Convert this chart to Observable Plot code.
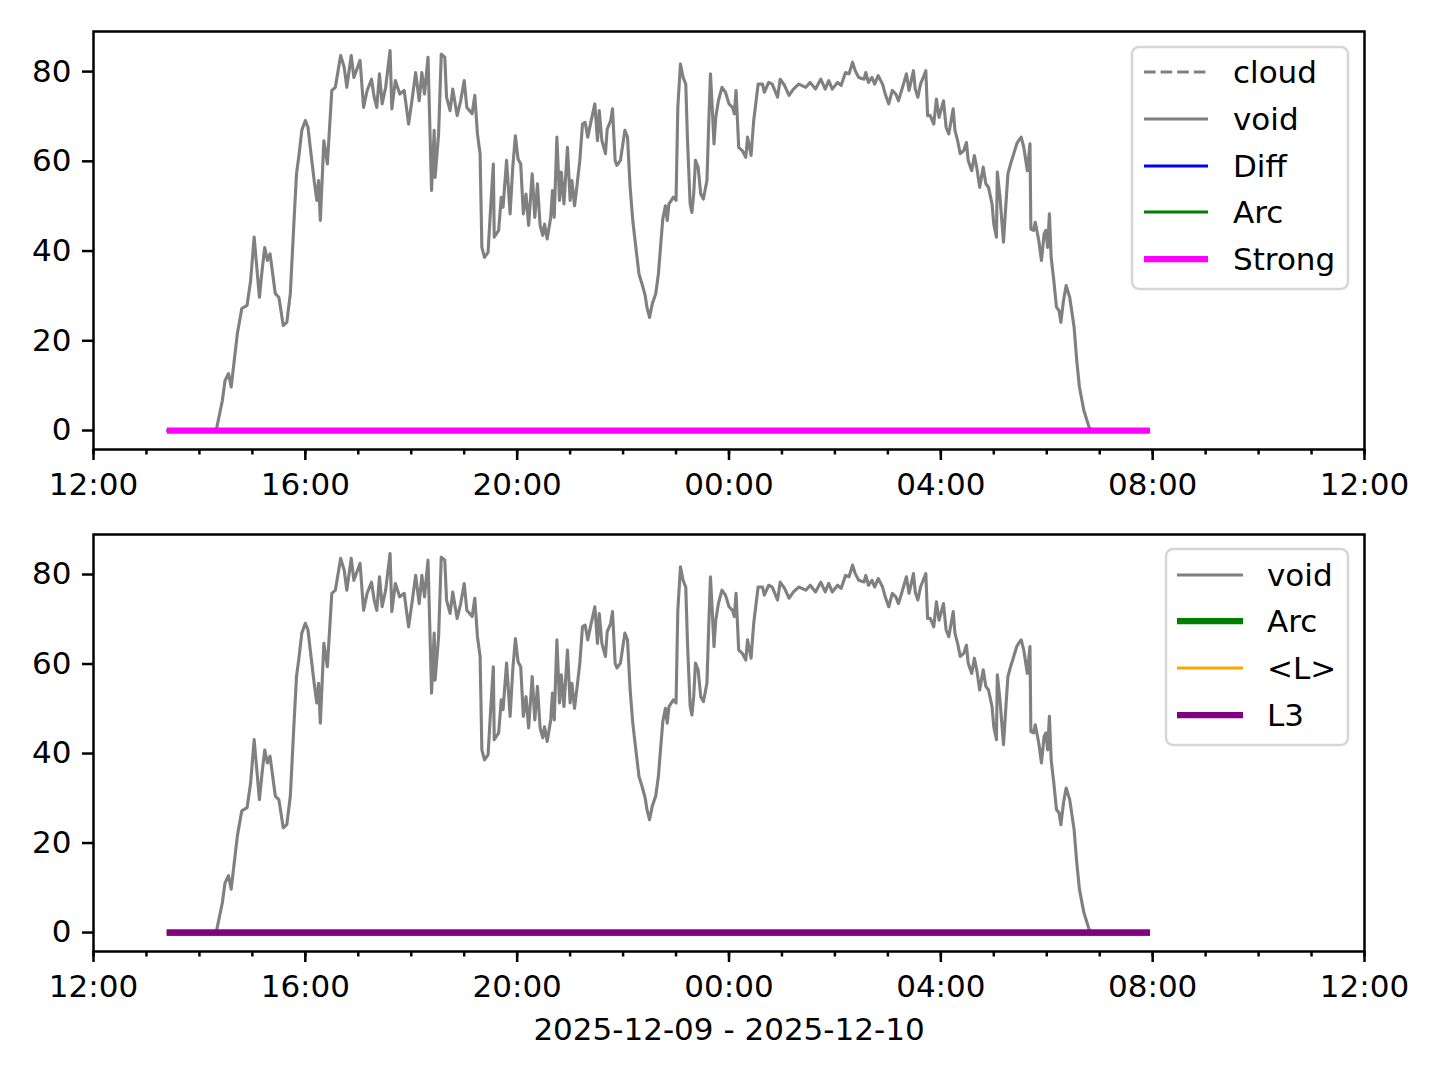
<!DOCTYPE html>
<html><head><meta charset="utf-8">
<script src="https://cdn.jsdelivr.net/npm/d3@7"></script>
<script src="https://cdn.jsdelivr.net/npm/@observablehq/plot@0.6"></script>
<style>
body{margin:0;background:#fff;font-family:"DejaVu Sans",sans-serif;}
#wrap{position:relative;width:1440px;height:1080px;}
#wrap svg{display:block;}
.legend{position:absolute;}
</style></head><body><div id="wrap"></div>
<script>
// ---- data ----
const startTime = "2025-12-09T12:00:00Z";
const endTime = "2025-12-10T12:00:00Z";
// minutes after 12:00 on 2025-12-09
const voidMinutes = [83,139,146,149,153,156,163,168,174,178,
182,188,191,194,197,200,206,210,215,219,
223,227,230,233,236,240,243,246,250,253,
255,257,261,265,270,274,280,284,287,292,
295,302,306,310,315,318,321,324,327,331,
336,338,342,347,352,357,361,365,369,372,
375,379,383,386,387,391,394,398,400,404,
407,412,416,420,423,429,432,435,438,440,
443,447,450,453,454,459,462,464,468,472,
475,478,481,484,487,490,493,497,500,503,
506,509,511,514,518,520,522,525,528,530,
533,537,540,542,545,548,551,554,557,560,
563,568,571,573,576,580,582,586,588,591,
593,597,602,605,608,611,614,618,622,625,
627,630,633,637,640,643,645,648,650,652,
657,660,662,665,668,671,673,676,678,680,
682,685,688,691,695,697,699,701,703,705,
708,712,716,720,724,726,728,731,735,739,
741,745,748,753,758,760,765,769,775,778,
783,788,793,799,807,812,818,824,829,833,
837,843,847,852,856,860,863,867,873,875,
878,882,885,889,894,897,901,905,909,912,
916,921,924,929,931,934,937,943,945,948,
952,955,958,963,966,969,974,976,979,982,
986,989,991,993,995,998,1001,1004,1008,1011,
1014,1018,1020,1023,1024,1027,1031,1034,1036,1039,
1042,1046,1048,1051,1054,1058,1061,1062,1065,1067,
1071,1074,1077,1079,1081,1083,1085,1088,1091,1094,
1096,1099,1102,1106,1111,1114,1117,1122,1128,1131,1197];
const voidValues = [0,0,6.7,11.1,12.7,9.7,21.6,27.2,27.9,33.4,
43.1,29.7,35.7,40.8,37.9,39.4,30.5,29.7,23.4,24.1,
30.5,46.1,57.2,61.7,66.9,69.1,67.6,62.4,55.7,51.3,
55.7,46.8,64.6,59.4,75.8,76.5,83.6,81,76.5,83.6,
78.7,82.5,72,75.8,78.3,74.3,72,79.5,72.8,76.5,
84.7,71.7,78,75,75.8,68.3,73.9,79.8,73.5,79.8,
75,83.2,53.5,66.9,56.4,66.1,83.9,83.2,74.3,71.3,
76.1,70.2,73.5,78,72,70.6,74.7,66.1,61.7,40.8,
38.6,39.7,49.8,59.4,43.1,44.6,52,49.8,60.2,48.3,
58.7,65.7,60.5,59.4,48.3,52.7,45.7,57.2,47.5,55,
45.7,43.5,46,42.7,47.5,53.5,47.5,65.4,51.3,57.6,
50.5,63.1,51.3,55.7,50.1,55,60.2,68.3,68.7,65.4,
68.3,72.8,64.6,71.3,64.6,61.7,67.2,69.1,71.7,60.2,
59.1,60.2,66.9,65.4,54.2,46.8,41.6,34.9,32.3,30.1,
27.5,25.2,28.2,30.5,34.9,42.3,47.2,50.1,46.8,50.5,
52,51.3,72,81.7,78.7,77.2,64.6,50.5,48.6,52.7,
60.2,58.7,52.7,51.6,55.7,68.3,79.5,72,63.9,69.8,
73.5,76.5,75.4,72.8,72,70.6,75.8,63.1,62.4,60.9,
65.4,61.3,69.1,77.2,77.2,75.4,77.6,77.2,74.3,78.3,
76.9,74.7,76.1,77.2,76.5,77.6,76.1,78.3,76.1,78,
76.1,77.6,76.9,79.8,79.5,82.1,80.2,78.7,78.3,79.8,
77.6,78.7,77.2,79.1,77.2,75,72.8,75.8,75,73.5,
76.1,79.5,75.8,80.2,76.1,74.3,77.2,80.2,70.2,70.2,
68.3,73.9,69.8,73.5,67.6,66.1,71.7,66.9,64.6,61.7,
62.4,64.2,60.2,59,57.9,61.3,58.3,54.2,58.7,55,
54.2,50.5,46,43.1,57.6,52,42,51.3,57.2,59.4,
61.3,63.9,64.6,65.4,63.1,57.9,63.9,44.9,44.6,46.4,
42.3,37.9,43.8,44.6,40.8,48.3,38.6,33.4,27.5,26.7,
24.1,29,32.3,29.7,23,15.6,9.7,4.5,0.7,0,0];
// flat series (cloud, Diff, Arc, Strong, <L>, L3) – all zero over the run
const flatMinutes = [83, 1197];
const flatValues = [0, 0];
const yTicks = [0, 20, 40, 60, 80];
const topLabels = ["cloud", "void", "Diff", "Arc", "Strong"];
const bottomLabels = ["void", "Arc", "<L>", "L3"];
const dateRangeLabel = "2025-12-09 - 2025-12-10";

// ---- helpers ----
const t0 = new Date(startTime), t1 = new Date(endTime);
const toDate = m => new Date(+t0 + m * 60000);
const voidData = voidMinutes.map((m, i) => ({t: toDate(m), v: voidValues[i]}));
const flatData = flatMinutes.map((m, i) => ({t: toDate(m), v: flatValues[i]}));

const LW = 3.125;
const styles = {
  cloud: {stroke: "gray", strokeWidth: LW, dash: "11.6,5"},
  void: {stroke: "gray", strokeWidth: LW},
  Diff: {stroke: "blue", strokeWidth: LW},
  ArcThin: {stroke: "green", strokeWidth: LW},
  Strong: {stroke: "magenta", strokeWidth: 2 * LW},
  ArcThick: {stroke: "green", strokeWidth: 2 * LW},
  L: {stroke: "orange", strokeWidth: LW},
  L3: {stroke: "purple", strokeWidth: 2 * LW}
};
const lineOf = (data, s) => Plot.line(data, {x: "t", y: "v", stroke: s.stroke, strokeWidth: s.strokeWidth, strokeDasharray: s.dash, strokeLinejoin: "round", strokeLinecap: "butt"});

function panel({height, marginTop, marginBottom, lines, extra = []}) {
  return Plot.plot({
    width: 1440, height, marginLeft: 93, marginRight: 76, marginTop, marginBottom,
    style: {fontFamily: "DejaVu Sans", fontSize: "31px", color: "black", background: "white", overflow: "visible"},
    x: {type: "utc", domain: [t0, t1]},
    y: {domain: [-4.235, 88.94]},
    marks: [
      Plot.axisX({ticks: d3.utcHour.every(1), tickSize: 5.5, strokeWidth: 2.5, tickFormat: () => "", label: null}),
      Plot.axisX({ticks: d3.utcHour.every(4), tickSize: 11, strokeWidth: 2.5, tickPadding: 12, fontSize: 31, tickFormat: d3.utcFormat("%H:%M"), label: null}),
      Plot.axisY({ticks: yTicks, tickSize: 11, strokeWidth: 2.5, tickPadding: 11, fontSize: 31, label: null}),
      ...lines,
      Plot.frame({stroke: "black", strokeWidth: 2.5}),
      ...extra
    ]
  });
}

const wrap = document.getElementById("wrap");
const topPanel = panel({
  height: 500, marginTop: 31, marginBottom: 51,
  lines: [
    lineOf(voidData, styles.void),
    lineOf(flatData, styles.cloud),
    lineOf(flatData, styles.Diff),
    lineOf(flatData, styles.ArcThin),
    lineOf(flatData, styles.Strong)
  ]
});
const bottomPanel = panel({
  height: 580, marginTop: 34, marginBottom: 129,
  lines: [
    lineOf(voidData, styles.void),
    lineOf(flatData, styles.ArcThick),
    lineOf(flatData, styles.L),
    lineOf(flatData, styles.L3)
  ],
  extra: [Plot.text([dateRangeLabel], {frameAnchor: "bottom", dy: 79, lineAnchor: "middle", fontSize: 31, fill: "black"})]
});
wrap.append(topPanel, bottomPanel);

function legend({left, top, width, height, rows, handle, textX, items}) {
  const svg = d3.create("svg").attr("class", "legend")
    .attr("width", width + 4).attr("height", height + 4)
    .style("left", (left - 2) + "px").style("top", (top - 2) + "px");
  svg.append("rect").attr("x", 2).attr("y", 2).attr("width", width).attr("height", height)
    .attr("rx", 7).attr("fill", "white").attr("fill-opacity", 0.8)
    .attr("stroke", "#d6d6d6").attr("stroke-width", 2.5);
  items.forEach((it, i) => {
    const y = rows[i] + 2;
    svg.append("line").attr("x1", handle[0] + 2).attr("x2", handle[1] + 2).attr("y1", y).attr("y2", y)
      .attr("stroke", it.s.stroke).attr("stroke-width", it.s.strokeWidth)
      .attr("stroke-dasharray", it.s.dash || null);
    svg.append("text").attr("x", textX + 2).attr("y", y).attr("dy", "0.36em")
      .attr("font-family", "DejaVu Sans").attr("font-size", 31).attr("fill", "black").text(it.label);
  });
  return svg.node();
}
wrap.append(legend({
  left: 1132, top: 47, width: 216, height: 242, rows: [25, 72, 119, 165, 212], handle: [12, 76], textX: 101,
  items: [styles.cloud, styles.void, styles.Diff, styles.ArcThin, styles.Strong].map((s, i) => ({s, label: topLabels[i]}))
}));
wrap.append(legend({
  left: 1166, top: 549, width: 182, height: 196, rows: [26, 72, 119, 166], handle: [11, 77], textX: 101,
  items: [styles.void, styles.ArcThick, styles.L, styles.L3].map((s, i) => ({s, label: bottomLabels[i]}))
}));
</script></body></html>
